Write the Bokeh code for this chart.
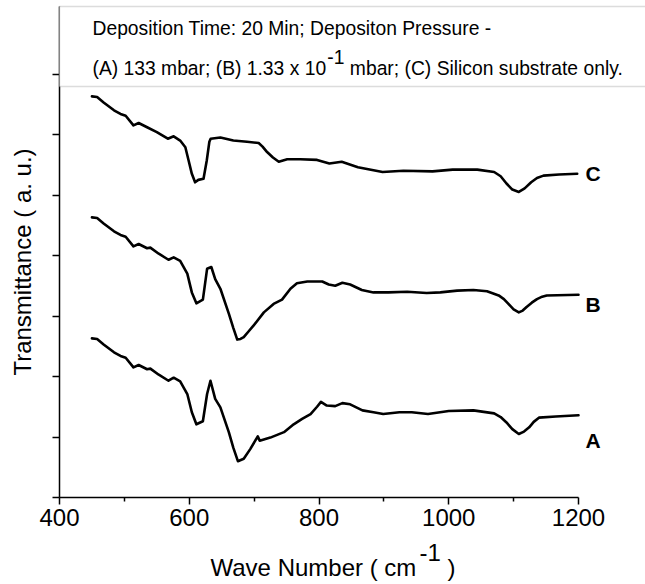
import math
from bokeh.plotting import figure
from bokeh.models import Range1d, FixedTicker, BoxAnnotation, Label
from bokeh.embed import file_html
from bokeh.resources import INLINE

# ---------------- data ----------------
wn_C = [450, 458, 468, 484, 494, 502, 514, 522, 535, 550, 567, 576, 586, 594, 599, 604,
        609, 614, 622, 627, 631, 633, 648, 668, 689, 707, 713, 720, 729, 738, 751, 771, 797, 816,
        835, 860, 898, 930, 975, 1006, 1044, 1070, 1080, 1089, 1098, 1108, 1117, 1127, 1136, 1146,
        1170, 1198]
tr_C = [6.63, 6.62, 6.53, 6.40, 6.34, 6.31, 6.15, 6.19, 6.12, 6.04, 5.93, 5.97, 5.90, 5.79, 5.57, 5.35,
        5.21, 5.25, 5.27, 5.57, 5.88, 5.93, 5.95, 5.90, 5.88, 5.86, 5.80, 5.71, 5.62, 5.55, 5.59, 5.59,
        5.58, 5.52, 5.55, 5.46, 5.38, 5.40, 5.39, 5.42, 5.42, 5.38, 5.31, 5.19, 5.09, 5.05, 5.11, 5.21,
        5.28, 5.32, 5.34, 5.35]

wn_B = [450, 458, 468, 484, 494, 502, 514, 522, 535, 540, 553, 568, 576, 586, 597, 604,
        611, 621, 627.5, 634, 640, 648, 661, 668, 674, 679, 684, 691, 699, 715, 730, 743, 756, 766,
        782, 805, 815, 825, 836, 848, 866, 884, 907, 936, 966, 987, 1013, 1038, 1059, 1077, 1085,
        1092, 1100, 1108, 1114, 1120, 1128, 1136, 1144, 1151, 1200]
tr_B = [4.63, 4.62, 4.53, 4.40, 4.34, 4.31, 4.15, 4.19, 4.12, 4.13, 4.03, 3.93, 3.97, 3.91, 3.70, 3.39,
        3.21, 3.27, 3.78, 3.81, 3.61, 3.45, 3.04, 2.80, 2.61, 2.62, 2.65, 2.74, 2.84, 3.06, 3.20, 3.27,
        3.45, 3.54, 3.57, 3.57, 3.52, 3.50, 3.55, 3.52, 3.43, 3.39, 3.39, 3.40, 3.38, 3.39, 3.42, 3.43,
        3.41, 3.34, 3.28, 3.20, 3.11, 3.06, 3.09, 3.15, 3.22, 3.28, 3.32, 3.34, 3.35]

wn_A = [450, 458, 468, 484, 494, 502, 514, 522, 535, 540, 553, 568, 576, 586, 597, 604,
        611, 621, 627.5, 632.7, 640, 648, 661, 668, 675, 684, 694, 705.6, 708.6, 725, 746, 761, 774,
        787, 797, 803, 812, 825, 836, 848, 867, 884, 899, 924, 943, 968, 1000, 1038, 1070, 1080,
        1089, 1098, 1108, 1116, 1124, 1131, 1139, 1165, 1200]
tr_A = [2.63, 2.62, 2.53, 2.40, 2.34, 2.31, 2.15, 2.19, 2.12, 2.13, 2.03, 1.93, 1.98, 1.92, 1.71, 1.41,
        1.21, 1.26, 1.71, 1.93, 1.63, 1.49, 1.08, 0.82, 0.60, 0.64, 0.80, 1.01, 0.94, 0.99, 1.08, 1.21,
        1.30, 1.38, 1.50, 1.58, 1.52, 1.51, 1.56, 1.54, 1.44, 1.41, 1.38, 1.41, 1.41, 1.38, 1.43, 1.44,
        1.39, 1.33, 1.24, 1.13, 1.05, 1.09, 1.16, 1.25, 1.32, 1.34, 1.36]

series_names = ["C", "B", "A"]
series_label_y = [5.35, 3.19, 0.94]
x_ticks = [400, 600, 800, 1000, 1200]
x_minor_ticks = [500, 700, 900, 1100]
y_ticks = [0, 1, 2, 3, 4, 5, 6, 7]

# ---------------- layout helpers ----------------
W, H = 645, 584
AX_L, AX_B, AX_T = 59, 497, 6          # pixel positions of the axes
X0, X1 = 400, 1200
PX_PER_X = (578 - AX_L) / (X1 - X0)
PX_PER_Y = 60.5

def dx(px):
    return X0 + (px - AX_L) / PX_PER_X

def dy(py):
    return (AX_B - py) / PX_PER_Y

def dyb(py, fs):
    # baseline correction for the rendered text
    return dy(py - 0.35 * fs)

AW = {' ': .278, '(': .333, ')': .333, '-': .333, '.': .278, ';': .278, ':': .278,
      'A': .667, 'B': .667, 'C': .722, 'D': .722, 'M': .833, 'P': .667, 'S': .667,
      'T': .611, 'W': .944, 'N': .722, 'a': .556, 'b': .556, 'c': .5, 'e': .556,
      'i': .222, 'l': .222, 'm': .833, 'n': .556, 'o': .556, 'p': .556, 'r': .333,
      's': .5, 't': .278, 'u': .556, 'x': .5, 'y': .5}

def tw(s, size):
    return sum(AW.get(ch, .556) for ch in s) * size

FONT = "Liberation Sans"

p = figure(width=W, height=H, output_backend="svg", toolbar_location=None, title=None,
           x_range=Range1d(dx(0), dx(W)), y_range=Range1d(dy(H), dy(0)), min_border=0)
p.outline_line_color = None
p.xgrid.grid_line_color = None
p.ygrid.grid_line_color = None
p.background_fill_color = "white"

for xs, ys in [(wn_C, tr_C), (wn_B, tr_B), (wn_A, tr_A)]:
    p.line(xs, ys, line_color="black", line_width=2.6, line_join="round", line_cap="round")

for name, ly in zip(series_names, series_label_y):
    p.add_layout(Label(x=dx(585), y=ly, text=name, text_font=FONT, text_font_size="21px",
                       text_font_style="bold", text_baseline="middle", text_align="left",
                       text_color="black"))

# x axis (drawn at y = 0)
xa = p.xaxis[0]
xa.fixed_location = 0
xa.bounds = (X0, X1)
xa.ticker = FixedTicker(ticks=x_ticks, minor_ticks=x_minor_ticks)
xa.axis_line_width = 1.5
xa.major_tick_line_width = 1.5
xa.minor_tick_line_width = 1.5
xa.major_tick_out = 7
xa.major_tick_in = 0
xa.minor_tick_out = 4
xa.minor_tick_in = 0
xa.major_label_text_font = FONT
xa.major_label_text_font_size = "24px"
xa.major_label_text_color = "black"
xa.major_label_standoff = 4

# y axis (drawn at x = 400)
ya = p.yaxis[0]
ya.fixed_location = X0
ya.bounds = (0, dy(AX_T))
ya.ticker = FixedTicker(ticks=y_ticks, minor_ticks=[])
ya.axis_line_width = 1.5
ya.major_tick_line_width = 1.5
ya.major_tick_out = 7
ya.major_tick_in = 0
ya.minor_tick_line_color = None
ya.major_label_text_color = None

# axis titles
FS_T = 24
p.add_layout(Label(x=dx(22), y=dy(261.5), text="Transmittance ( a. u.)", angle=math.pi / 2,
                   text_font=FONT, text_font_size=f"{FS_T}px", text_align="center",
                   text_baseline="middle", text_color="black"))

xt_a = "Wave Number ( cm"
xt_s = "-1"
xt_b = ")"
x0 = 210
p.add_layout(Label(x=dx(x0), y=dyb(575, FS_T), text=xt_a, text_font=FONT, text_font_size=f"{FS_T}px",
                   text_baseline="alphabetic", text_color="black"))
xs1 = x0 + tw(xt_a, FS_T) + 1
p.add_layout(Label(x=dx(xs1), y=dyb(560, FS_T), text=xt_s, text_font=FONT, text_font_size=f"{FS_T}px",
                   text_baseline="alphabetic", text_color="black"))
xs2 = xs1 + tw(xt_s, FS_T) + tw(" ", FS_T)
p.add_layout(Label(x=dx(xs2), y=dyb(575, FS_T), text=xt_b, text_font=FONT, text_font_size=f"{FS_T}px",
                   text_baseline="alphabetic", text_color="black"))

# info box at top
p.add_layout(BoxAnnotation(left=X0, right=dx(W + 50), bottom=dy(86), top=dy(AX_T),
                           fill_color="white", fill_alpha=1.0,
                           line_color="#8a8a8a", line_width=1.5))

FS_BOX = 19.3
line1 = "Deposition Time: 20 Min; Depositon Pressure -"
l2a = "(A) 133 mbar; (B) 1.33 x 10"
l2s = "-1"
l2b = "mbar; (C) Silicon substrate only."
tx = 92
p.add_layout(Label(x=dx(tx), y=dyb(35, FS_BOX), text=line1, text_font=FONT,
                   text_font_size=f"{FS_BOX}px", text_baseline="alphabetic", text_color="black"))
p.add_layout(Label(x=dx(tx), y=dyb(75, FS_BOX), text=l2a, text_font=FONT,
                   text_font_size=f"{FS_BOX}px", text_baseline="alphabetic", text_color="black"))
sx = tx + tw(l2a, FS_BOX) + 1
p.add_layout(Label(x=dx(sx), y=dyb(63, FS_BOX), text=l2s, text_font=FONT,
                   text_font_size=f"{FS_BOX}px", text_baseline="alphabetic", text_color="black"))
sx2 = sx + tw(l2s, FS_BOX) + tw(" ", FS_BOX)
p.add_layout(Label(x=dx(sx2), y=dyb(75, FS_BOX), text=l2b, text_font=FONT,
                   text_font_size=f"{FS_BOX}px", text_baseline="alphabetic", text_color="black"))

open("out.html", "w").write(file_html(p, INLINE))
